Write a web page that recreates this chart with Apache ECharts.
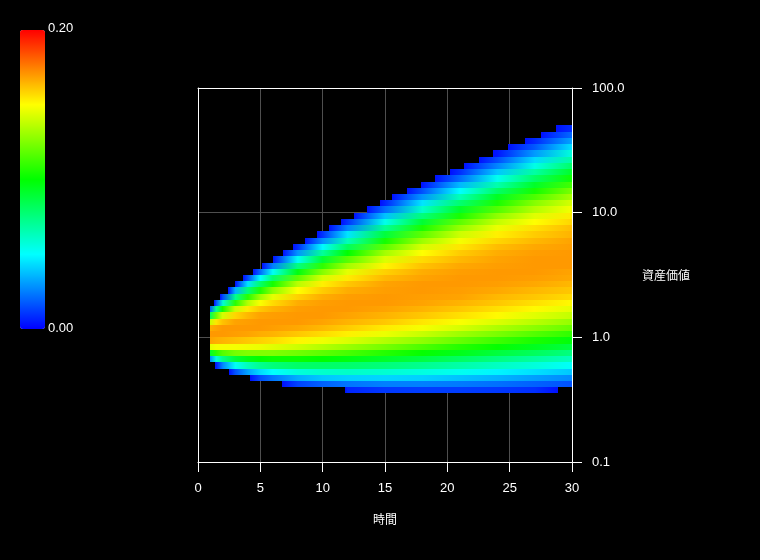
<!DOCTYPE html>
<html>
<head>
<meta charset="utf-8">
<script src="https://cdn.jsdelivr.net/npm/echarts@6/dist/echarts.min.js"></script>
<style>
html,body{margin:0;padding:0;background:#000;}
#chart{width:760px;height:560px;}
</style>
</head>
<body>
<div id="chart"></div>
<script>
const _ = null;

// Sample times (years) at which the density of each band was read
const sampleTimes = [1, 1.5, 2, 3, 4, 5, 6, 8, 10, 12, 15, 18, 21, 24, 27, 30];

// Asset-value band edges (log-spaced rows of the chart)
const bandEdges = [0.3548, 0.3981, 0.4467, 0.5012, 0.5623, 0.6310, 0.7079, 0.7943, 0.8913, 1.0,
  1.122, 1.259, 1.413, 1.585, 1.778, 1.995, 2.239, 2.512, 2.818, 3.162,
  3.548, 3.981, 4.467, 5.012, 5.623, 6.310, 7.079, 7.943, 8.913, 10.0,
  11.22, 12.59, 14.13, 15.85, 17.78, 19.95, 22.39, 25.12, 28.18, 31.62,
  35.48, 39.81, 44.67, 50.12];

// Time where each band becomes visible / stops being visible
const bandStart = [11.8, 6.74, 4.17, 2.49, 1.36, 1, 1, 1, 1, 1, 1, 1, 1, 1,
  1.28, 1.76, 2.41, 2.97, 3.61, 4.41, 5.13, 6.01, 6.82, 7.62, 8.58, 9.54, 10.5, 11.47,
  12.5, 13.55, 14.6, 15.6, 16.76, 17.9, 19.0, 20.2, 21.3, 22.5, 23.7, 24.9, 26.2, 27.5, 28.7];
const bandEnd = [28.85, 30, 30, 30, 30, 30, 30, 30, 30, 30, 30, 30, 30, 30,
  30, 30, 30, 30, 30, 30, 30, 30, 30, 30, 30, 30, 30, 30,
  30, 30, 30, 30, 30, 30, 30, 30, 30, 30, 30, 30, 30, 30, 30];

// Density value per band (rows, bottom to top) at each sample time
const density = [
  [_,_,_,_,_,_,_,_,_,.007,.011,.012,.012,.011,.009,_],
  [_,_,_,_,_,_,_,.013,.019,.023,.025,.025,.024,.022,.019,.016],
  [_,_,_,_,_,.015,.023,.034,.039,.041,.042,.041,.038,.035,.031,.027],
  [_,_,_,.016,.032,.043,.050,.057,.060,.061,.059,.056,.053,.048,.044,.039],
  [_,.007,.027,.052,.064,.072,.076,.080,.080,.079,.076,.072,.067,.062,.057,.051],
  [.027,.057,.073,.089,.096,.100,.102,.102,.100,.097,.092,.087,.081,.075,.069,.063],
  [.092,.108,.116,.123,.125,.125,.125,.122,.118,.114,.107,.101,.095,.088,.082,.075],
  [.145,.148,.148,.148,.147,.146,.144,.140,.135,.130,.123,.115,.107,.101,.094,.087],
  [.168,.166,.165,.163,.161,.159,.157,.152,.147,.143,.135,.128,.120,.112,.105,.098],
  [.170,.170,.170,.169,.168,.166,.165,.161,.157,.153,.146,.139,.131,.124,.116,.109],
  [.166,.168,.170,.170,.170,.170,.169,.167,.164,.160,.154,.148,.142,.134,.127,.120],
  [.139,.155,.162,.168,.169,.170,.170,.170,.168,.165,.161,.155,.149,.143,.136,.129],
  [.082,.121,.141,.158,.164,.168,.169,.170,.170,.168,.165,.161,.156,.151,.144,.138],
  [.018,.071,.104,.139,.154,.161,.165,.169,.170,.170,.168,.165,.161,.156,.151,.145],
  [_,.019,.059,.108,.135,.149,.157,.166,.169,.170,.170,.168,.165,.161,.156,.151],
  [_,_,.015,.072,.108,.131,.145,.159,.166,.169,.170,.169,.168,.164,.161,.157],
  [_,_,_,.035,.077,.106,.127,.150,.160,.166,.169,.170,.169,.167,.164,.161],
  [_,_,_,.004,.045,.079,.104,.136,.153,.161,.168,.170,.170,.169,.167,.164],
  [_,_,_,_,.015,.050,.078,.118,.142,.154,.164,.168,.170,.170,.169,.167],
  [_,_,_,_,_,.021,.052,.097,.126,.145,.159,.166,.169,.170,.170,.168],
  [_,_,_,_,_,_,.025,.075,.109,.132,.152,.162,.167,.169,.170,.170],
  [_,_,_,_,_,_,_,.052,.090,.117,.143,.157,.164,.168,.170,.170],
  [_,_,_,_,_,_,_,.029,.070,.100,.132,.150,.160,.166,.169,.170],
  [_,_,_,_,_,_,_,.009,.049,.082,.118,.142,.155,.163,.167,.169],
  [_,_,_,_,_,_,_,_,.028,.064,.104,.131,.148,.158,.164,.168],
  [_,_,_,_,_,_,_,_,.010,.045,.088,.118,.140,.153,.160,.165],
  [_,_,_,_,_,_,_,_,_,.026,.071,.105,.129,.146,.156,.163],
  [_,_,_,_,_,_,_,_,_,.010,.054,.090,.118,.138,.150,.158],
  [_,_,_,_,_,_,_,_,_,_,.038,.076,.105,.128,.144,.154],
  [_,_,_,_,_,_,_,_,_,_,.021,.060,.092,.116,.135,.148],
  [_,_,_,_,_,_,_,_,_,_,.007,.045,.078,.105,.126,.142],
  [_,_,_,_,_,_,_,_,_,_,_,.029,.064,.093,.115,.133],
  [_,_,_,_,_,_,_,_,_,_,_,.016,.050,.080,.104,.124],
  [_,_,_,_,_,_,_,_,_,_,_,.004,.036,.066,.092,.113],
  [_,_,_,_,_,_,_,_,_,_,_,_,.021,.053,.080,.103],
  [_,_,_,_,_,_,_,_,_,_,_,_,.009,.039,.068,.092],
  [_,_,_,_,_,_,_,_,_,_,_,_,_,.026,.055,.080],
  [_,_,_,_,_,_,_,_,_,_,_,_,_,.015,.043,.068],
  [_,_,_,_,_,_,_,_,_,_,_,_,_,.004,.030,.057],
  [_,_,_,_,_,_,_,_,_,_,_,_,_,_,.017,.044],
  [_,_,_,_,_,_,_,_,_,_,_,_,_,_,.008,.032],
  [_,_,_,_,_,_,_,_,_,_,_,_,_,_,_,.021],
  [_,_,_,_,_,_,_,_,_,_,_,_,_,_,_,.009]
];

// Density at the visible edge of a band (pure blue in the picture)
const edgeDensity = 0.003;

// Axis ranges
const timeMin = 0, timeMax = 30, timeStep = 5;
const assetMin = 0.1, assetMax = 100;

// Colour scale
const densityMin = 0, densityMax = 0.20;
const colorbarLabels = ['0.20', '0.00'];
const palette = ['#0000ff', '#00ffff', '#00ff00', '#ffff00', '#ff0000'];

function hexToRgb(h) {
  return [parseInt(h.substr(1, 2), 16), parseInt(h.substr(3, 2), 16), parseInt(h.substr(5, 2), 16)];
}
const paletteRgb = palette.map(hexToRgb);
function colorOf(v) {
  let f = (v - densityMin) / (densityMax - densityMin);
  f = Math.max(0, Math.min(1, f));
  const s = f * (paletteRgb.length - 1);
  let i = Math.floor(s);
  if (i >= paletteRgb.length - 1) i = paletteRgb.length - 2;
  const r = s - i;
  const a = paletteRgb[i], b = paletteRgb[i + 1];
  const c = [0, 1, 2].map(k => Math.round(a[k] + (b[k] - a[k]) * r));
  return 'rgb(' + c.join(',') + ')';
}

const bandData = bandStart.map((t0, i) => [t0, bandEnd[i], bandEdges[i], bandEdges[i + 1], i]);

function renderItem(params, api) {
  const i = api.value(4);
  const t0 = api.value(0), t1 = api.value(1);
  const pTL = api.coord([t0, api.value(3)]);
  const pBR = api.coord([t1, api.value(2)]);
  const x0 = Math.round(pTL[0]), x1 = Math.round(pBR[0]);
  const yT = Math.round(pTL[1]), yB = Math.round(pBR[1]);
  const pts = [];
  const row = density[i];
  for (let k = 0; k < sampleTimes.length; k++) {
    const t = sampleTimes[k];
    if (row[k] !== null && t >= t0 - 1e-9 && t <= t1 + 1e-9) pts.push([t, row[k]]);
  }
  if (!pts.length || pts[0][0] > t0 + 1e-9) pts.unshift([t0, edgeDensity]);
  if (pts[pts.length - 1][0] < t1 - 1e-9) pts.push([t1, edgeDensity]);
  const span = t1 - t0;
  const stops = pts.map(p => ({ offset: Math.max(0, Math.min(1, (p[0] - t0) / span)), color: colorOf(p[1]) }));
  return {
    type: 'rect',
    shape: { x: x0, y: yT, width: x1 - x0, height: yB - yT },
    style: { fill: new echarts.graphic.LinearGradient(0, 0, 1, 0, stops), stroke: null }
  };
}

const chart = echarts.init(document.getElementById('chart'), null, { renderer: 'canvas' });
const labelFont = 'Liberation Sans';
const cjkFont = 'Noto Sans CJK JP';
const frameLine = { show: true, onZero: false, lineStyle: { color: '#fff', width: 1 } };

chart.setOption({
  backgroundColor: '#000',
  animation: false,
  grid: { left: 198, right: 188, top: 88, bottom: 98, show: false },
  xAxis: [{
    type: 'value', min: timeMin, max: timeMax, interval: timeStep, position: 'bottom',
    name: '時間', nameLocation: 'middle', nameGap: 51,
    nameTextStyle: { color: '#fff', fontSize: 12, fontFamily: cjkFont },
    axisLine: frameLine,
    axisTick: { show: true, length: 10, lineStyle: { color: '#fff' } },
    axisLabel: { color: '#fff', fontSize: 13, margin: 20, fontFamily: labelFont },
    splitLine: { show: true, showMinLine: false, showMaxLine: false, lineStyle: { color: '#4f4f4f', width: 1 } }
  }, {
    type: 'value', min: timeMin, max: timeMax, interval: timeStep, position: 'top',
    axisLine: frameLine, axisTick: { show: false }, axisLabel: { show: false }, splitLine: { show: false }
  }],
  yAxis: [{
    type: 'log', logBase: 10, min: assetMin, max: assetMax, position: 'right',
    name: '資産価値', nameLocation: 'middle', nameRotate: 0, nameGap: 70,
    nameTextStyle: { color: '#fff', fontSize: 12, fontFamily: cjkFont },
    axisLine: frameLine,
    axisTick: { show: true, length: 10, lineStyle: { color: '#fff' } },
    minorTick: { show: false },
    axisLabel: { color: '#fff', fontSize: 13, margin: 20, fontFamily: labelFont,
      formatter: v => Number(v).toFixed(1) },
    splitLine: { show: true, showMinLine: false, showMaxLine: false, lineStyle: { color: '#4f4f4f', width: 1 } }
  }, {
    type: 'log', logBase: 10, min: assetMin, max: assetMax, position: 'left',
    axisLine: frameLine, axisTick: { show: false }, axisLabel: { show: false }, splitLine: { show: false }
  }],
  visualMap: {
    type: 'continuous', min: densityMin, max: densityMax,
    orient: 'vertical', left: 20, top: 30, padding: 0,
    itemWidth: 25, itemHeight: 299,
    calculable: false, text: null, showLabel: false,
    seriesIndex: [],
    inRange: { color: palette }
  },
  graphic: [
    { type: 'text', x: 48, y: 28, style: { text: colorbarLabels[0], fill: '#fff', fontSize: 13, fontFamily: labelFont, verticalAlign: 'middle' } },
    { type: 'text', x: 48, y: 328, style: { text: colorbarLabels[1], fill: '#fff', fontSize: 13, fontFamily: labelFont, verticalAlign: 'middle' } }
  ],
  series: [{
    type: 'custom',
    xAxisIndex: 0, yAxisIndex: 0,
    renderItem: renderItem,
    data: bandData,
    encode: { x: [0, 1], y: [2, 3] },
    silent: true,
    clip: true
  }]
});
</script>
</body>
</html>
